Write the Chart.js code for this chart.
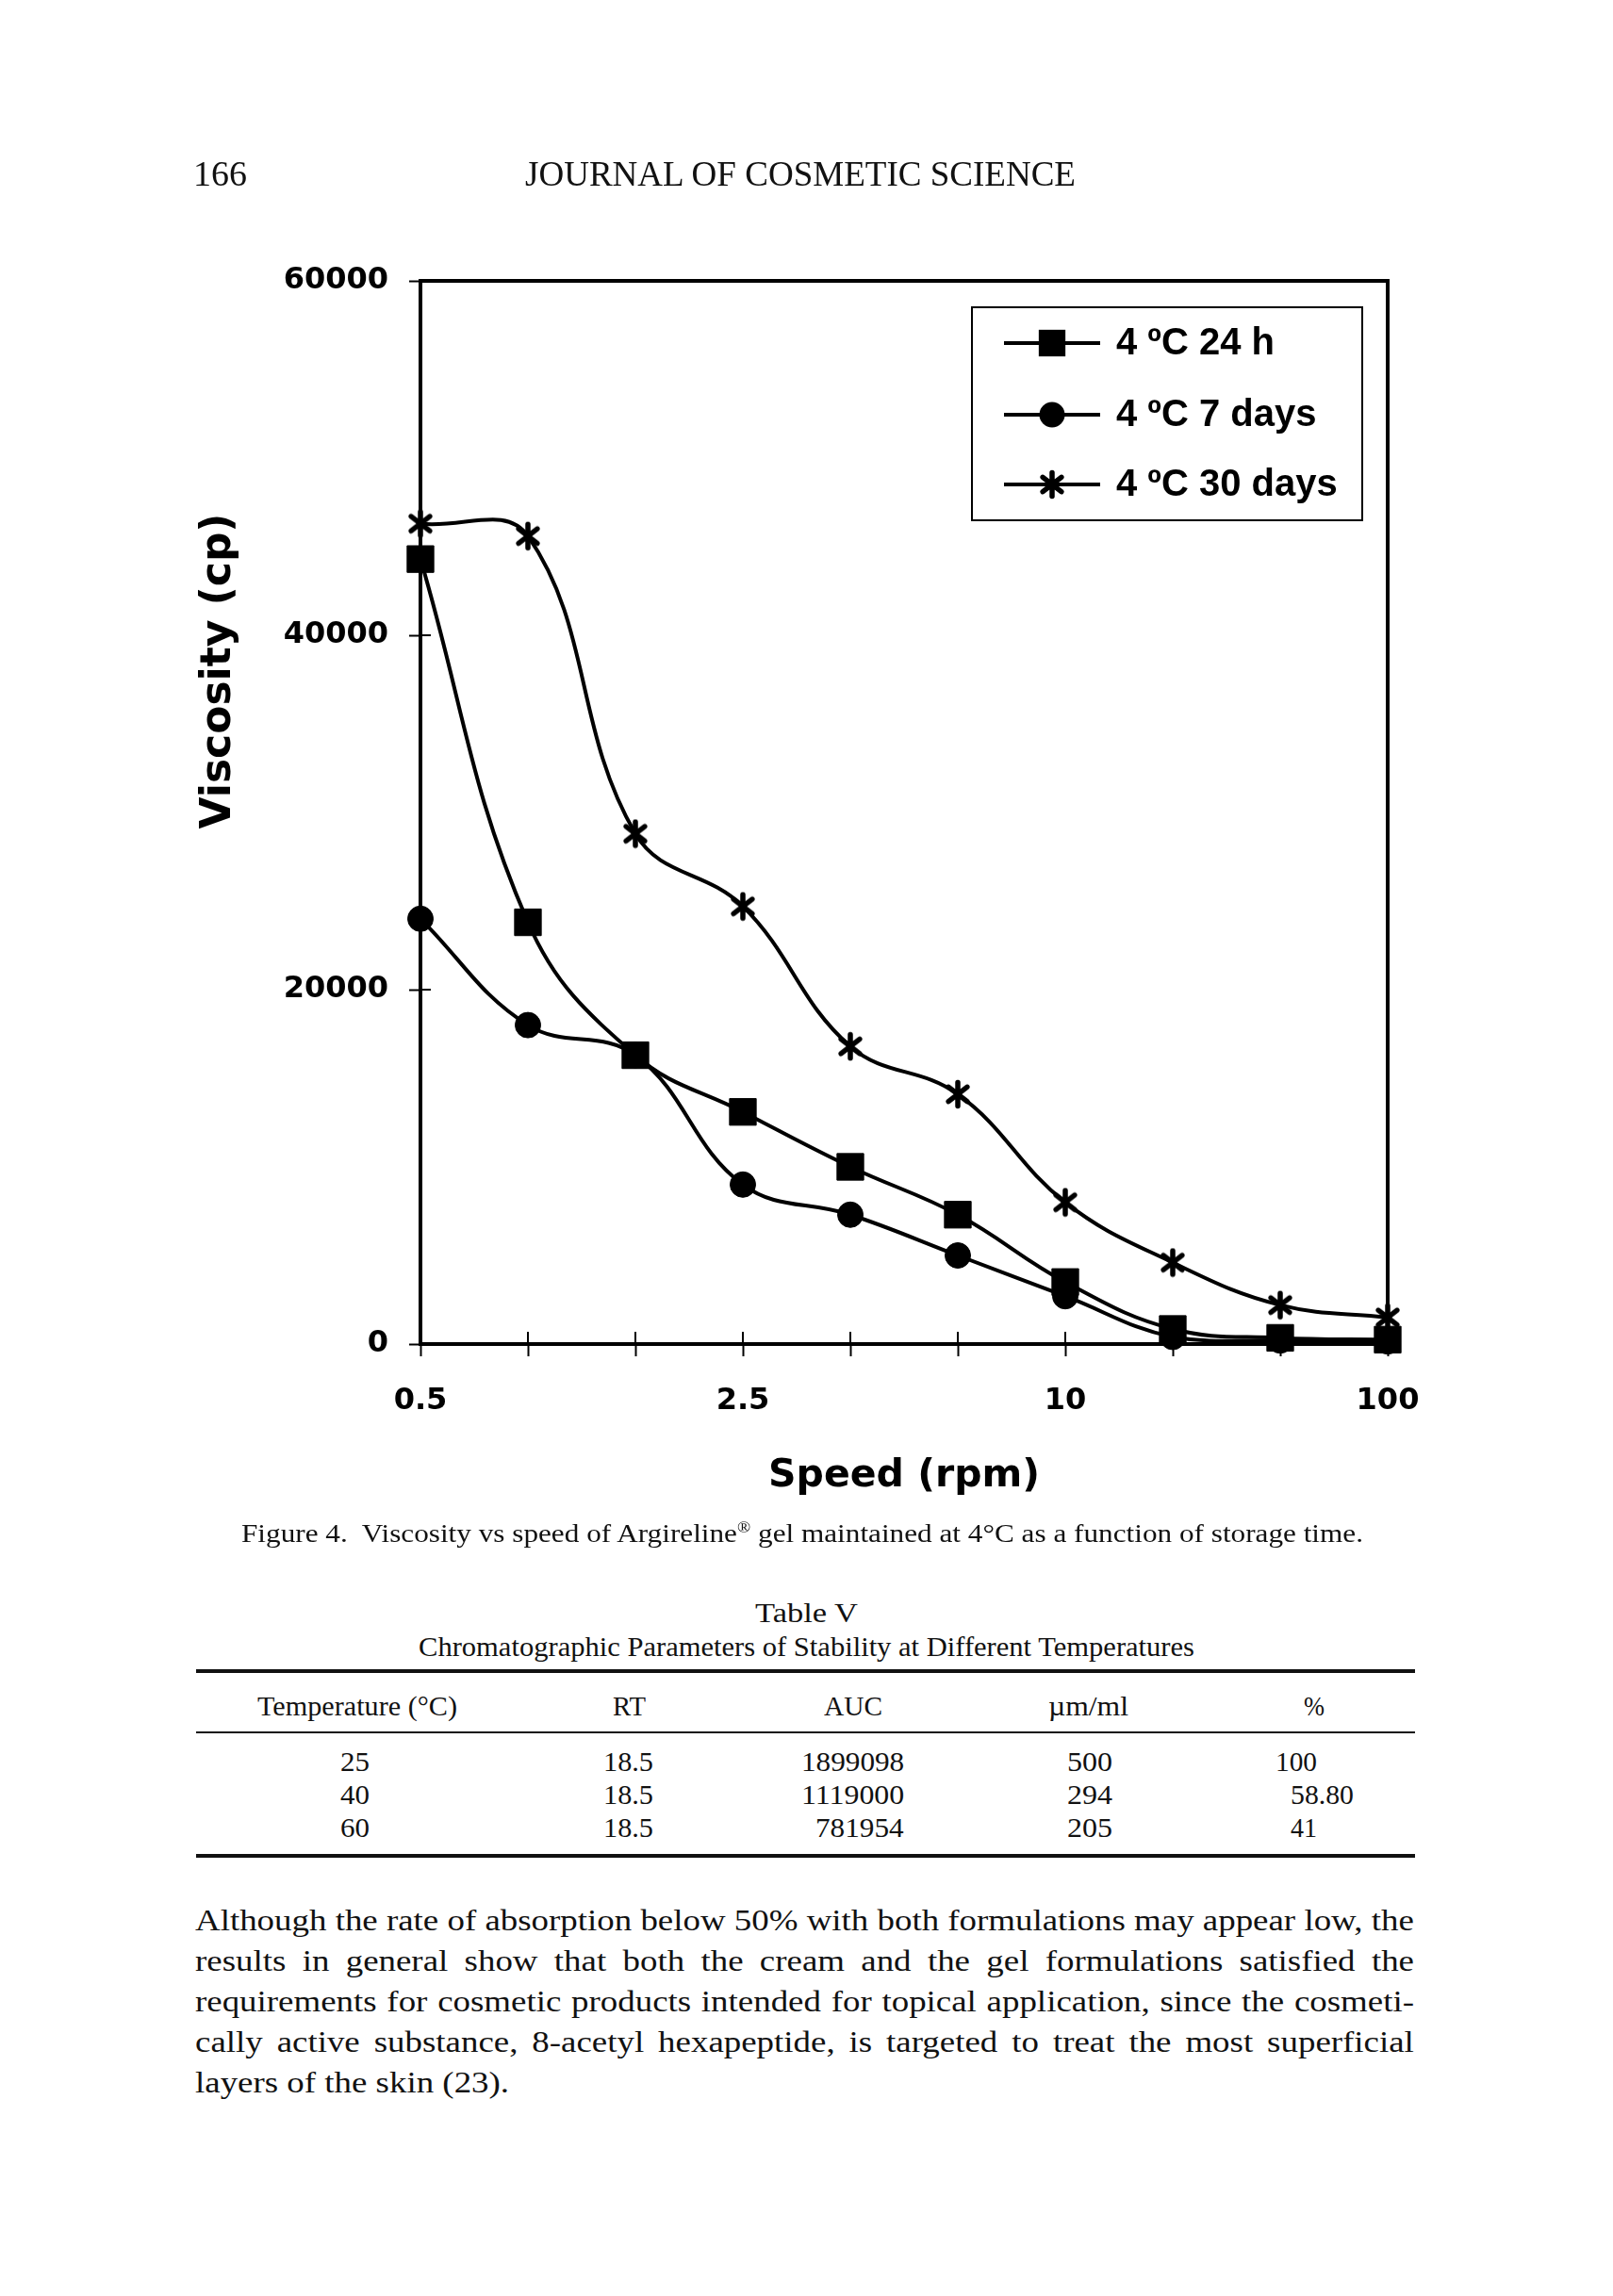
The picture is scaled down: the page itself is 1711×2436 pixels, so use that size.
<!DOCTYPE html>
<html><head><meta charset="utf-8">
<script src="https://cdn.jsdelivr.net/npm/chart.js@4.4.1/dist/chart.umd.min.js"></script>
<style>
html,body{margin:0;padding:0;background:#fff;}
#page{position:relative;width:1711px;height:2436px;overflow:hidden;background:#fff;}
#chart{position:absolute;left:0;top:0;width:1711px;height:1620px;}
.t{position:absolute;white-space:nowrap;font-family:"Liberation Serif","DejaVu Serif",serif;color:#111;transform-origin:0 0;}
.rule{position:absolute;background:#111;}
</style></head>
<body><div id="page"><canvas id="chart" width="1711" height="1620"></canvas></div>
<script>
// ---------------- chart data ----------------
const speeds = ['0.5','1','2','2.5','4','5','10','20','50','100'];
const shownSpeedLabels = ['0.5','2.5','10','100'];
const seriesNames = ['4 \u00BAC 24 h','4 \u00BAC 7 days','4 \u00BAC 30 days'];
const h24 = [44300, 23800, 16300, 13100, 10000, 7300, 3500, 850, 350, 250];
const d7  = [24000, 18000, 16300, 9000, 7300, 5000, 2700, 400, 200, 150];
const d30 = [46300, 45600, 28800, 24700, 16800, 14100, 8000, 4600, 2200, 1500];
const yMin = 0, yMax = 60000, yStep = 20000;
const xTitle = 'Speed (rpm)';
const yTitle = 'Viscosity (cp)';

// ---------------- page text data ----------------
const pageNumber = '166';
const journalTitle = 'JOURNAL OF COSMETIC SCIENCE';
const captionHTML = 'Figure 4.&nbsp; Viscosity vs speed of Argireline<sup style="font-size:0.6em;line-height:0">\u00AE</sup> gel maintained at 4\u00B0C as a function of storage time.';
const tableTitle = 'Table V';
const tableSubtitle = 'Chromatographic Parameters of Stability at Different Temperatures';
const tableHeaders = ['Temperature (\u00B0C)','RT','AUC','\u00B5m/ml','%'];
const tableTemps = ['25','40','60'];
const tableRT = ['18.5','18.5','18.5'];
const tableAUC = ['1899098','1119000','781954'];
const tableConc = ['500','294','205'];
const tablePct = ['100','58.80','41'];
const paragraph = [
 'Although the rate of absorption below 50% with both formulations may appear low, the',
 'results in general show that both the cream and the gel formulations satisfied the',
 'requirements for cosmetic products intended for topical application, since the cosmeti-',
 'cally active substance, 8-acetyl hexapeptide, is targeted to treat the most superficial',
 'layers of the skin (23).'
];

// ---------------- layout ----------------
const FRAME = {left:446, right:1472, top:298, bottom:1426};
const CW = 1711, CH = 1620, Y_W = 175, X_H = 190;

function makeStar(size){
  const c = document.createElement('canvas'); c.width = c.height = size;
  const g = c.getContext('2d');
  g.strokeStyle = '#000'; g.lineWidth = 5.5; g.lineCap = 'round';
  const r = size/2 - 3.5, cx = size/2, cy = size/2;
  g.beginPath();
  [90, 38, 142].forEach(a => {
    const t = a*Math.PI/180;
    g.moveTo(cx - r*Math.cos(t), cy - r*Math.sin(t));
    g.lineTo(cx + r*Math.cos(t), cy + r*Math.sin(t));
  });
  g.stroke();
  return c;
}
const starImg = makeStar(32);

const markerDefs = [
  {style:'rect', radius:20},
  {style:'circle', radius:13.5},
  {style:starImg, radius:16}
];

function drawMarker(ctx, def, x, y){
  ctx.save();
  ctx.fillStyle = '#000';
  if (def.style === 'rect') {
    const h = def.radius*Math.SQRT1_2;
    ctx.fillRect(x-h, y-h, 2*h, 2*h);
  } else if (def.style === 'circle') {
    ctx.beginPath(); ctx.arc(x, y, def.radius, 0, Math.PI*2); ctx.fill();
  } else {
    ctx.drawImage(def.style, x - def.style.width/2, y - def.style.height/2);
  }
  ctx.restore();
}

const framePlugin = {
  id: 'frameExtras',
  afterDatasetsDraw(chart){
    const ctx = chart.ctx, a = chart.chartArea;
    ctx.save();
    ctx.strokeStyle = '#000';
    ctx.lineWidth = 4;
    ctx.beginPath();
    ctx.moveTo(a.left, a.top); ctx.lineTo(a.right, a.top); ctx.lineTo(a.right, a.bottom);
    ctx.stroke();
    ctx.lineWidth = 2;
    const xs = chart.scales.x, ys = chart.scales.y;
    ctx.beginPath();
    xs.ticks.forEach((t,i) => { const px = xs.getPixelForTick(i); ctx.moveTo(px, a.bottom); ctx.lineTo(px, a.bottom-13); });
    ys.ticks.forEach((t,i) => { const py = ys.getPixelForTick(i); ctx.moveTo(a.left, py); ctx.lineTo(a.left+11, py); });
    ctx.stroke();
    const bw = 414, bh = 226;
    const bx = a.right - 27 - bw, by = a.top + 28;
    ctx.fillStyle = '#fff';
    ctx.fillRect(bx, by, bw, bh);
    ctx.lineWidth = 2;
    ctx.strokeRect(bx, by, bw, bh);
    const rows = [38, 114, 188];
    chart.data.datasets.forEach((ds, i) => {
      const yy = by + rows[i];
      ctx.lineWidth = 4;
      ctx.beginPath(); ctx.moveTo(bx+34, yy); ctx.lineTo(bx+136, yy); ctx.stroke();
      drawMarker(ctx, markerDefs[i], bx+85, yy);
      ctx.fillStyle = '#000';
      ctx.font = 'bold 40px "Liberation Sans", Arial, sans-serif';
      ctx.textAlign = 'left'; ctx.textBaseline = 'middle';
      ctx.fillText(ds.label, bx+153, yy+1);
    });
    ctx.save();
    ctx.translate(233, 712);
    ctx.rotate(-Math.PI/2);
    ctx.font = 'bold 44px "DejaVu Sans", sans-serif';
    ctx.fillStyle = '#000';
    ctx.textAlign = 'center'; ctx.textBaseline = 'middle';
    ctx.fillText(yTitle, 0, 0);
    ctx.restore();
    ctx.restore();
  }
};

const tickFont = {family:'DejaVu Sans', weight:'bold', size:32};
const mk = (name, data, i) => ({
  label: name, data: data,
  pointStyle: markerDefs[i].style, pointRadius: markerDefs[i].radius,
  pointBackgroundColor:'#000', pointBorderColor:'#000', pointBorderWidth:1,
  borderColor:'#000', borderWidth:4, tension:0.4, fill:false, clip:false
});

new Chart(document.getElementById('chart').getContext('2d'), {
  type:'line',
  data:{ labels: speeds, datasets:[ mk(seriesNames[0], h24, 0), mk(seriesNames[1], d7, 1), mk(seriesNames[2], d30, 2) ] },
  options:{
    responsive:false, animation:false, devicePixelRatio:1, events:[],
    layout:{padding:{left:FRAME.left-Y_W, right:CW-FRAME.right, top:FRAME.top, bottom:CH-FRAME.bottom-X_H}},
    plugins:{legend:{display:false}, tooltip:{enabled:false}, title:{display:false}},
    scales:{
      x:{
        type:'category', offset:false,
        grid:{display:true, drawOnChartArea:false, drawTicks:true, tickLength:13, tickWidth:2, tickColor:'#000', offset:false},
        border:{display:true, color:'#000', width:4},
        ticks:{autoSkip:false, maxRotation:0, minRotation:0, padding:28, color:'#000', font:tickFont,
          callback:(v,i) => shownSpeedLabels.includes(speeds[i]) ? speeds[i] : ''},
        title:{display:true, text:xTitle, color:'#000', font:{family:'DejaVu Sans', weight:'bold', size:41}, padding:{top:0, bottom:25}},
        afterFit:(s) => { s.height = X_H; s.paddingLeft = 0; s.paddingRight = 0; }
      },
      y:{
        min:yMin, max:yMax,
        grid:{display:true, drawOnChartArea:false, drawTicks:true, tickLength:12, tickWidth:2, tickColor:'#000'},
        border:{display:true, color:'#000', width:4},
        ticks:{stepSize:yStep, padding:22, color:'#000', font:tickFont, callback:(v) => String(v)},
        afterFit:(s) => { s.width = Y_W; s.paddingTop = 0; s.paddingBottom = 0; }
      }
    }
  },
  plugins:[framePlugin]
});

// ---------------- page text ----------------
const page = document.getElementById('page');
function place(html, x, cy, size, opts){
  opts = opts || {};
  const d = document.createElement('div');
  d.className = 't';
  d.style.fontSize = size + 'px';
  d.style.lineHeight = size + 'px';
  d.innerHTML = html;
  d.style.left = '0px';
  d.style.top = (cy - size/2) + 'px';
  page.appendChild(d);
  const nw = d.getBoundingClientRect().width;
  const s = opts.w ? opts.w / nw : 1;
  const fw = nw * s;
  let left = x;
  if (opts.align === 'center') left = x - fw/2;
  else if (opts.align === 'right') left = x - fw;
  d.style.left = left + 'px';
  d.style.transform = 'scaleX(' + s + ')';
  return d;
}
function rule(x1, x2, y, h){
  const r = document.createElement('div'); r.className = 'rule';
  r.style.left = x1 + 'px'; r.style.width = (x2-x1) + 'px';
  r.style.top = (y - h/2) + 'px'; r.style.height = h + 'px';
  page.appendChild(r);
}

function buildPage(){
  place(pageNumber, 205, 184, 37, {w:57});
  place(journalTitle, 557, 184, 37, {w:584});
  place(captionHTML, 256, 1627, 27, {w:1190});
  place(tableTitle, 855, 1711, 29, {w:109, align:'center'});
  place(tableSubtitle, 855, 1747, 29, {w:823, align:'center'});
  rule(208, 1501, 1773, 4);
  rule(208, 1501, 1838, 2);
  rule(208, 1501, 1969, 4);
  const hx = [[273,212],[650,35],[874,62],[1112,85],[1383,22]];
  tableHeaders.forEach((h,i) => place(h, hx[i][0], 1810, 29, {w:hx[i][1]}));
  const ry = [1869, 1904, 1939];
  tableTemps.forEach((v,i) => place(v, 376, ry[i], 29, {w:31, align:'center'}));
  tableRT.forEach((v,i) => place(v, 640, ry[i], 29, {w:53}));
  tableAUC.forEach((v,i) => place(v, 959, ry[i], 29, {w: v.length*15.6, align:'right'}));
  tableConc.forEach((v,i) => place(v, 1132, ry[i], 29, {w:48}));
  const pctLeft = [1353, 1369, 1369], pctW = [44, 67, 28];
  tablePct.forEach((v,i) => place(v, pctLeft[i], ry[i], 29, {w:pctW[i]}));

  const size = 31, left = 207, right = 1500, top0 = 2037, lh = 43;
  const probe = document.createElement('span');
  probe.className = 't'; probe.style.fontSize = size + 'px'; probe.textContent = paragraph[0];
  page.appendChild(probe);
  const nat = probe.getBoundingClientRect().width; probe.remove();
  const s = (right - left) / nat;
  paragraph.forEach((line, i) => {
    const d = document.createElement('div');
    d.className = 't';
    d.style.fontSize = size + 'px'; d.style.lineHeight = size + 'px';
    d.style.left = left + 'px'; d.style.top = (top0 + i*lh - size/2) + 'px';
    d.style.transform = 'scaleX(' + s + ')';
    if (i < paragraph.length - 1) {
      d.style.display = 'flex'; d.style.justifyContent = 'space-between';
      d.style.width = ((right - left) / s) + 'px';
      line.split(' ').forEach(w => { const sp = document.createElement('span'); sp.textContent = w; d.appendChild(sp); });
    } else {
      d.textContent = line;
    }
    page.appendChild(d);
  });
}
if (document.fonts && document.fonts.ready) document.fonts.ready.then(buildPage); else buildPage();
</script>
</body></html>
